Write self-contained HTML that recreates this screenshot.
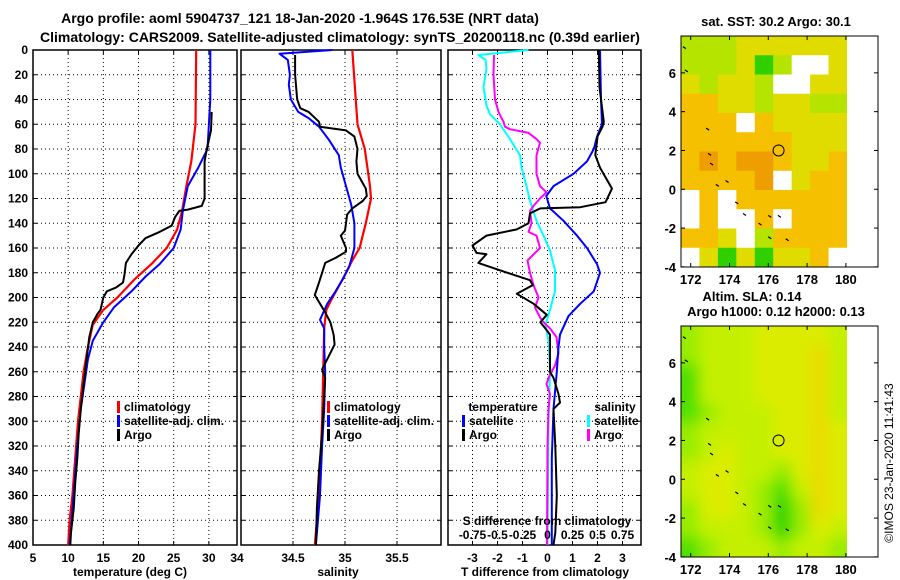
<!DOCTYPE html>
<html><head><meta charset="utf-8"><style>
body{margin:0;background:#fff;}
svg{display:block;font-family:"Liberation Sans",sans-serif;}
</style></head><body>
<svg id="s" width="900" height="580" viewBox="0 0 900 580">
<text x="300" y="23" text-anchor="middle" font-size="14" font-weight="bold">Argo profile: aoml 5904737_121 18-Jan-2020 -1.964S 176.53E (NRT data)</text>
<text x="340" y="42" text-anchor="middle" font-size="14" font-weight="bold">Climatology: CARS2009. Satellite-adjusted climatology: synTS_20200118.nc (0.39d earlier)</text>
<g id="g"></g>
</svg>
<script>
// ---- Data (depth in m) ----
const depthTicks=[0,20,40,60,80,100,120,140,160,180,200,220,240,260,280,300,320,340,360,380,400];
const tempTicks=[5,10,15,20,25,30,34];
const salTicks=[34,34.5,35,35.5];
const tdiffTicks=[-3,-2,-1,0,1,2,3];
const sdiffTicks=[-0.75,-0.5,-0.25,0,0.25,0.5,0.75];
const sdiffLabels=["-0.75","-0.5","-0.25","0","0.25","0.5","0.75"];

const climT_d=[0,60,90,110,130,145,160,172,185,200,210,222,240,260,280,300,330,360,380,400];
const climT_v=[28.2,28.1,27.5,26.8,26.2,25.5,24,22,19.5,17,15,13.5,12.8,12.2,11.8,11.4,11,10.6,10.2,10];
const satT_d=[0,40,60,80,95,110,130,145,160,173,183,195,208,220,235,250,270,290,320,350,380,400];
const satT_v=[30.2,30.2,30,29.8,28.5,27,26.3,26,25,23,21,19,16.5,15,13.5,12.8,12.3,11.8,11.3,10.9,10.5,10.2];
const argoT_d=[50,65,80,90,120,126,129,130,135,142,147,152,158,165,172,182,188,192,195,200,210,213,220,232,250,270,290,310,330,350,370,390,400];
const argoT_v=[30.4,30.3,29.7,29.4,29.4,29,27,25.8,25.2,24.7,23,21,20,19,18.2,18,17.8,16.8,15.5,15,14.6,14.2,13.5,13,12.6,12.2,11.8,11.5,11.3,11,10.8,10.4,10.3];

const climS_d=[0,60,80,110,120,140,160,170,185,200,210,225,260,300,340,380,400];
const climS_v=[35.07,35.12,35.19,35.24,35.25,35.2,35.14,35.07,34.98,34.88,34.82,34.8,34.79,34.78,34.76,34.73,34.71];
const satS_d=[0,3,8,20,28,40,50,55,62,72,85,95,110,125,140,160,175,185,195,205,218,225,240,260,290,320,360,400];
const satS_v=[34.88,34.37,34.45,34.47,34.46,34.48,34.55,34.65,34.75,34.84,34.94,34.96,35.01,35.06,35.09,35.09,35.04,34.98,34.91,34.83,34.76,34.8,34.8,34.81,34.8,34.78,34.76,34.72];
const argoS_d=[4,20,40,47,50,58,62,65,70,80,90,100,112,118,122,128,133,140,146,150,160,163,168,172,180,188,198,205,212,220,230,238,248,258,265,280,310,340,370,400];
const argoS_v=[34.52,34.52,34.54,34.57,34.65,34.75,34.76,35.01,35.09,35.12,35.11,35.12,35.2,35.21,35.17,35.07,35.02,35.01,35.0,34.96,35.01,35.01,34.91,34.81,34.78,34.75,34.71,34.76,34.81,34.86,34.89,34.9,34.84,34.78,34.81,34.8,34.78,34.75,34.73,34.72];

const satDT_d=[0,40,60,70,80,90,100,110,118,128,138,150,160,173,180,195,205,215,230,240,260,290,330,400];
const satDT_v=[2.1,2.14,2.18,1.98,1.85,1.58,1.04,0.24,-0.05,0.1,0.64,1.18,1.58,1.98,2.1,1.85,1.31,0.84,0.5,0.44,0.37,0.24,0.17,0.17];
const argoDT_d=[0,30,58,62,70,85,95,105,112,123,127,128,132,140,145,150,158,164,165,172,178,186,190,197,205,214,220,225,230,260,265,278,285,290,320,360,390,400];
const argoDT_v=[2.05,2.08,2.25,2.2,2.0,1.91,2.1,2.38,2.58,2.32,1.31,-0.29,-0.7,-0.76,-1.23,-2.44,-3.0,-2.84,-2.44,-2.77,-1.9,-0.7,-0.59,-1.23,-0.56,-0.03,-0.29,-0.09,0.1,0.1,0.24,0.44,0.5,0.24,0.31,0.37,0.31,0.24];
const satDS_d=[0,4,8,15,30,45,52,60,72,85,95,110,122,138,150,162,178,195,210,222,235,260,300,400];
const satDS_v=[-0.19,-0.69,-0.62,-0.61,-0.64,-0.61,-0.575,-0.475,-0.375,-0.275,-0.26,-0.21,-0.175,-0.11,-0.04,0.025,0.075,0.075,0.025,-0.02,0.01,0.025,0.01,0];
const argoDS_d=[4,20,40,50,58,62,64,67,72,75,85,100,110,115,120,126,130,140,147,150,160,170,180,190,200,208,216,220,225,232,245,255,262,270,278,290,320,400];
const argoDS_v=[-0.535,-0.54,-0.525,-0.49,-0.44,-0.425,-0.375,-0.19,-0.11,-0.075,-0.11,-0.11,-0.075,-0.01,-0.075,-0.14,-0.175,-0.16,-0.19,-0.11,-0.075,-0.2,-0.175,-0.14,-0.09,-0.125,-0.075,-0.04,0.025,0.09,0.11,0.075,0.025,-0.01,0.025,0.01,0,-0.005];

// maps
const mapXTicks=[172,174,176,178,180];
const mapYTicks=[6,4,2,0,-2,-4];
const sstGrid=[
[1,1,1,2,2,2,2,2,2],
[1,1,1,2,5,1,0,0,2],
[2,1,2,2,1,0,0,2,2],
[3,3,2,2,1,2,2,1,1],
[3,3,3,0,3,2,2,2,2],
[3,3,3,3,3,3,2,2,2],
[3,4,3,4,4,3,2,2,3],
[3,3,3,3,4,0,2,3,3],
[0,3,0,3,3,3,3,3,3],
[0,3,0,0,3,0,3,3,3],
[3,3,2,0,1,3,3,3,3],
[0,2,5,2,5,2,2,3,0]];
const slaGrid=[
[2,3,3,3,4,4,4,4,3],
[2,3,3,3,4,4,4,5,3],
[1,3,3,3,4,4,4,5,3],
[1,3,3,3,4,4,4,5,3],
[1,2,3,3,3,4,4,5,3],
[2,3,3,3,3,4,4,5,4],
[2,3,4,3,3,4,4,5,4],
[3,4,4,3,3,2,4,5,4],
[3,4,4,3,2,1,3,5,4],
[2,4,4,3,2,6,2,5,4],
[2,3,3,3,2,6,2,4,3],
[1,2,3,3,3,2,3,3,2]];
const argoLon=176.53, argoLatPlot=2.0;

// ---- drawing ----
const NS="http://www.w3.org/2000/svg";
const G=document.getElementById('g');
function mk(tag,attrs,parent){const e=document.createElementNS(NS,tag);for(const k in attrs)e.setAttribute(k,attrs[k]);(parent||G).appendChild(e);return e;}
function txt(x,y,s,anchor,extra){const e=mk('text',Object.assign({x:x,y:y,'text-anchor':anchor||'middle','font-size':12,'font-weight':'bold'},extra||{}));e.textContent=s;return e;}
const Y0=50,Y1=545;
const yD=d=>Y0+d*(Y1-Y0)/400;
const xT=t=>33+(t-5)*204/29;
const xS=s=>241+(s-34)*104;
const xDT=v=>547.5+v*25;
const xDS=v=>547.5+v*100;

function panel(x0,x1,name,xticks,xf){
  const g=mk('g',{});
  
  
  depthTicks.forEach(d=>{if(d>0&&d<400){mk('line',{x1:x0,x2:x1,y1:yD(d),y2:yD(d),stroke:'#000','stroke-width':1,'stroke-dasharray':'1,3'},g);
    mk('line',{x1:x0,x2:x0+4,y1:yD(d),y2:yD(d),stroke:'#000'},g);mk('line',{x1:x1-4,x2:x1,y1:yD(d),y2:yD(d),stroke:'#000'},g);}});
  xticks.forEach(t=>{const x=xf(t);if(x>x0+1&&x<x1-1){mk('line',{x1:x,x2:x,y1:Y0,y2:Y1,stroke:'#000','stroke-dasharray':'1,3'},g);
    mk('line',{x1:x,x2:x,y1:Y0,y2:Y0+4,stroke:'#000'},g);mk('line',{x1:x,x2:x,y1:Y1-4,y2:Y1,stroke:'#000'},g);}});
  const r=mk('rect',{x:x0,y:Y0,width:x1-x0,height:Y1-Y0,fill:'none',stroke:'#000','stroke-width':1.5},g);
  
  
  return g;
}
function line(ds,vs,xf,color,name,w){
  let p='';ds.forEach((d,i)=>{p+=(i?'L':'M')+xf(vs[i]).toFixed(1)+','+yD(d).toFixed(1);});
  const e=mk('path',{d:p,fill:'none',stroke:color,'stroke-width':w||2,'stroke-linejoin':'round'});
  
  
}
function legend(x,y,items){items.forEach((it,i)=>{mk('rect',{x:x,y:y+i*14-10,width:3,height:12,fill:it[1]});const t=txt(x+7,y+i*14,it[0],'start');});}

depthTicks.forEach(d=>{const t=txt(28,yD(d)+4,String(d),'end');});

// Panel 1
panel(33,237,'temperature-panel',tempTicks,xT);
line(climT_d,climT_v,xT,'#f00','climatology-temperature-line',2.2);
line(satT_d,satT_v,xT,'#00f','satellite-temperature-line',2);
line(argoT_d,argoT_v,xT,'#000','argo-temperature-line',2);
tempTicks.forEach(t=>{const e=txt(xT(t),562,String(t));});
txt(130,576,'temperature (deg C)');
legend(117,411,[['climatology','#f00'],['satellite-adj. clim.','#00f'],['Argo','#000']]);

// Panel 2
panel(241,441,'salinity-panel',salTicks,xS);
line(climS_d,climS_v,xS,'#f00','climatology-salinity-line',2.2);
line(satS_d,satS_v,xS,'#00f','satellite-salinity-line',2);
line(argoS_d,argoS_v,xS,'#000','argo-salinity-line',2);
salTicks.forEach(t=>{if(t>34){const e=txt(xS(t),562,String(t));}});
txt(338,576,'salinity');
legend(327,411,[['climatology','#f00'],['satellite-adj. clim.','#00f'],['Argo','#000']]);

// Panel 3
panel(448,641,'difference-panel',tdiffTicks,xDT);
line(satDS_d,satDS_v,xDS,'#0ff','satellite-salinity-diff-line',2);
line(argoDS_d,argoDS_v,xDS,'#f0f','argo-salinity-diff-line',2);
line(satDT_d,satDT_v,xDT,'#00f','satellite-temperature-diff-line',2);
line(argoDT_d,argoDT_v,xDT,'#000','argo-temperature-diff-line',2);
tdiffTicks.forEach(t=>{const e=txt(xDT(t),562,String(t));});
sdiffTicks.forEach((t,i)=>{const e=txt(xDS(t),539,sdiffLabels[i]);});
txt(547,525,'S difference from climatology');
txt(545,576,'T difference from climatology');
txt(503,411,'temperature');
txt(615,411,'salinity');
legend(462,425,[['satellite','#00f'],['Argo','#000']]);
legend(587,425,[['satellite','#0ff'],['Argo','#f0f']]);

// ---- maps ----
const MX0=681,MX1=878,DX1=847,PX=19.4;
const lonX=l=>MX0+(l-171.5)*PX;
const sstCols=['#ffffff','#b4e400','#e0dc00','#f4c000','#ee9e00','#30d000'];
const slaCols=['#fff','#50e000','#98ec00','#c4f000','#dcec00','#eadc00','#28d400'];
const coast=[[171.7,7.3],[171.8,6.1],[172.9,3.1],[173.0,1.8],[173.1,1.3],[173.4,0.2],[173.9,0.4],[174.4,-0.7],[174.8,-1.3],[175.6,-1.8],[176.1,-1.4],[176.6,-1.4],[177.0,-2.6],[176.1,-2.5]];
function map(top,grid,cols,name,blur){
  const bottom=top+231;
  const latY=l=>top+(7.9-l)*PX;
  const g=mk('g',{});
  
  
  const cw=(DX1-MX0)/grid[0].length, ch=(bottom-top)/grid.length;
  const cid='c'+top;
  const cp=mk('clipPath',{id:cid},g);mk('rect',{x:MX0,y:top,width:DX1-MX0,height:bottom-top},cp);
  const cells=mk('g',{'clip-path':'url(#'+cid+')'},g);
  let inner=cells;
  if(blur){const f=mk('filter',{id:'f'+top,x:'-10%',y:'-10%',width:'120%',height:'120%'},g);mk('feGaussianBlur',{stdDeviation:7},f);
    inner=mk('g',{filter:'url(#f'+top+')'},cells);}
  grid.forEach((row,r)=>row.forEach((v,c)=>{
    const x=MX0+c*cw-(blur&&c==0?15:0), y=top+r*ch-(blur&&r==0?15:0);
    const w=cw+0.6+(blur&&(c==0||c==row.length-1)?15:0), h=ch+0.6+(blur&&(r==0||r==grid.length-1)?15:0);
    const e=mk('rect',{x:x,y:y,width:w,height:h,fill:cols[v]},inner);
    
    
  }));
  coast.forEach(p=>mk('path',{d:'M'+(lonX(p[0])-2)+','+(latY(p[1])-1)+'l3,2',stroke:'#000','stroke-width':1.2,fill:'none'},g));
  const c=mk('circle',{cx:lonX(argoLon),cy:latY(argoLatPlot),r:5.5,fill:'none',stroke:'#000','stroke-width':1});
  
  
  mk('rect',{x:MX0,y:top,width:MX1-MX0,height:bottom-top,fill:'none',stroke:'#000','stroke-width':1},g);
  mapXTicks.forEach(l=>{const x=lonX(l);mk('line',{x1:x,x2:x,y1:top,y2:top+4,stroke:'#000'},g);mk('line',{x1:x,x2:x,y1:bottom-4,y2:bottom,stroke:'#000'},g);
    const t=txt(x,bottom+17,String(l),'middle',{'font-size':13});});
  mapYTicks.forEach(l=>{const y=latY(l);mk('line',{x1:MX0,x2:MX0+4,y1:y,y2:y,stroke:'#000'},g);mk('line',{x1:MX1-4,x2:MX1,y1:y,y2:y,stroke:'#000'},g);
    const t=txt(MX0-5,y+5,String(l),'end',{'font-size':13});});
}
map(36,sstGrid,sstCols,'sst-map',false);
map(326,slaGrid,slaCols,'sla-map',true);
txt(776,26,'sat. SST: 30.2 Argo: 30.1','middle',{'font-size':13});
txt(752,301,'Altim. SLA: 0.14','middle',{'font-size':13});
txt(776,316,'Argo h1000: 0.12 h2000: 0.13','middle',{'font-size':13});
const im=txt(0,0,'©IMOS 23-Jan-2020 11:41:43','middle',{'font-size':12,'font-weight':'normal',transform:'translate(893,463) rotate(-90)'});


</script>
</body></html>
